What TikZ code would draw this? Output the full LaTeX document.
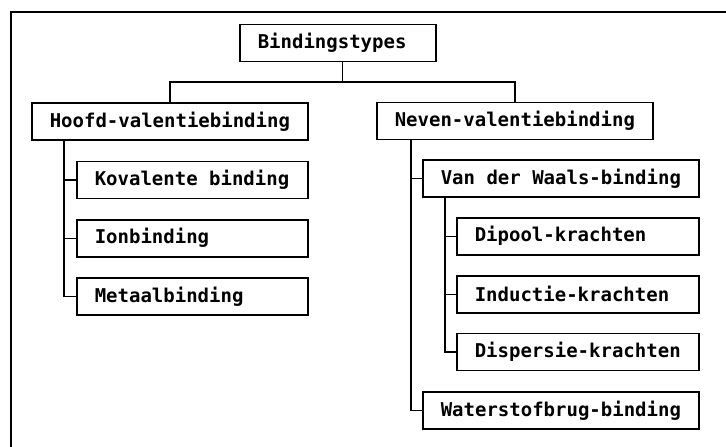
\documentclass[tikz,border=0pt]{standalone}
\usepackage{fontspec}
\setmonofont{DejaVu Sans Mono}
\usetikzlibrary{positioning,calc}

\newcommand\bindfont{\ttfamily\bfseries\fontsize{19}{22}\selectfont}
% fixed word spaces and a small lead-in for the box labels
\newcommand\lbl{\spaceskip=0.602em\relax\hspace*{2pt}}

\begin{document}
\begin{tikzpicture}[x=1pt, y=-1pt,
      box/.style={draw, line width=1.6pt, inner xsep=16pt, inner ysep=0pt,
        minimum height=37pt, anchor=west, font=\bindfont},
      wide/.style={box, text width=244pt},
      mid/.style={box, text width=199pt},
      sub/.style={box, text width=210pt},
      top/.style={box, text width=164pt},
      link/.style={line width=1.4pt},
      frame/.style={line width=1.8pt}
    ]
      \useasboundingbox (0,0) rectangle (726,447);
      \draw[frame] (726,12) -- (11,12) -- (11,447);

      % Root
      \node[top] (root) at (239,43) {\lbl Bindingstypes};

      % Main branches
      \node[wide] (hoofd) at (31,121.5) {\lbl Hoofd-valentiebinding};
      \node[wide] (neven) at (376,121) {\lbl Neven-valentiebinding};

      % Hoofd-valentie children
      \node[mid, below=20pt of hoofd.south east, anchor=north east] (kov) {\lbl Kovalente binding};
      \node[mid, below=19.5pt of kov.south east, anchor=north east] (ion) {\lbl Ionbinding};
      \node[mid, below=19.5pt of ion.south east, anchor=north east] (metaal) {\lbl Metaalbinding};

      % Neven-valentie children
      \node[wide, below=19pt of neven.south west, anchor=north west, xshift=46pt] (vdw) {\lbl Van der Waals-binding};
      \node[sub, below=19pt of vdw.south east, anchor=north east] (dipool) {\lbl Dipool-krachten};
      \node[sub, below=19.5pt of dipool.south east, anchor=north east] (inductie) {\lbl Inductie-krachten};
      \node[sub, below=19pt of inductie.south east, anchor=north east] (dispersie) {\lbl Dispersie-krachten};
      \node[wide, below=20pt of dispersie.south east, anchor=north east] (water) {\lbl Waterstofbrug-binding};

      % Bus under the root
      \coordinate (bus) at ($(hoofd.north)!.5!(neven.north)+(0,-20)$);
      \draw[link] (hoofd.north) |- (bus) -| (neven.north);
      \draw[link] (bus) -- (bus |- root.south);

      % Trunks
      \coordinate (htrunk) at ([xshift=33pt]hoofd.south west);
      \draw[link] (htrunk) |- (metaal.west);
      \foreach \n in {kov,ion}
        \draw[link] (htrunk |- \n.west) -- (\n.west);

      \coordinate (ntrunk) at ([xshift=35pt]neven.south west);
      \draw[link] (ntrunk) |- (water.west);
      \draw[link] (ntrunk |- vdw.west) -- (vdw.west);

      \coordinate (vtrunk) at ([xshift=23pt]vdw.south west);
      \draw[link] (vtrunk) |- (dispersie.west);
      \foreach \n in {dipool,inductie}
        \draw[link] (vtrunk |- \n.west) -- (\n.west);
    \end{tikzpicture}
\end{document}
